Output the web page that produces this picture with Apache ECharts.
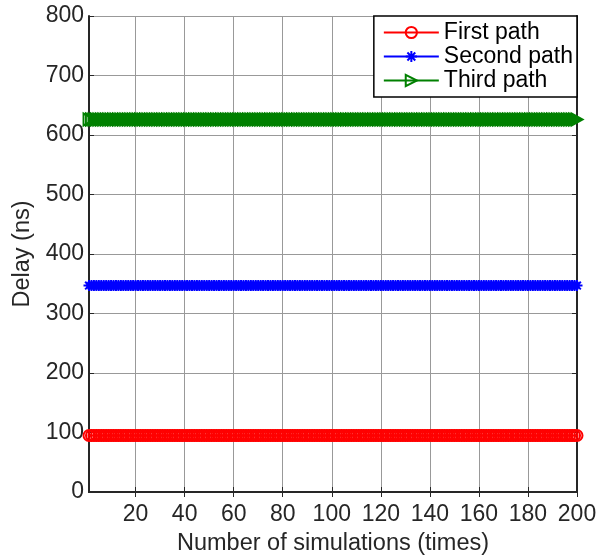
<!DOCTYPE html>
<html>
<head>
<meta charset="utf-8">
<script src="https://cdn.jsdelivr.net/npm/echarts@6/dist/echarts.min.js"></script>
<style>html,body{margin:0;padding:0;background:#fff;}#c{width:601px;height:555px;}</style>
</head>
<body>
<div id="c"></div>
<script>
var seriesNames = ['First path', 'Second path', 'Third path'];
var xTicks = [20, 40, 60, 80, 100, 120, 140, 160, 180, 200];
var yTicks = [0, 100, 200, 300, 400, 500, 600, 700, 800];
var firstPath = [
95,95,95,95,95,95,95,95,95,95,95,95,95,95,95,95,95,95,95,95,
95,95,95,95,95,95,95,95,95,95,95,95,95,95,95,95,95,95,95,95,
95,95,95,95,95,95,95,95,95,95,95,95,95,95,95,95,95,95,95,95,
95,95,95,95,95,95,95,95,95,95,95,95,95,95,95,95,95,95,95,95,
95,95,95,95,95,95,95,95,95,95,95,95,95,95,95,95,95,95,95,95,
95,95,95,95,95,95,95,95,95,95,95,95,95,95,95,95,95,95,95,95,
95,95,95,95,95,95,95,95,95,95,95,95,95,95,95,95,95,95,95,95,
95,95,95,95,95,95,95,95,95,95,95,95,95,95,95,95,95,95,95,95,
95,95,95,95,95,95,95,95,95,95,95,95,95,95,95,95,95,95,95,95,
95,95,95,95,95,95,95,95,95,95,95,95,95,95,95,95,95,95,95,95
];
var secondPath = [
347,347,347,347,347,347,347,347,347,347,347,347,347,347,347,347,347,347,347,347,
347,347,347,347,347,347,347,347,347,347,347,347,347,347,347,347,347,347,347,347,
347,347,347,347,347,347,347,347,347,347,347,347,347,347,347,347,347,347,347,347,
347,347,347,347,347,347,347,347,347,347,347,347,347,347,347,347,347,347,347,347,
347,347,347,347,347,347,347,347,347,347,347,347,347,347,347,347,347,347,347,347,
347,347,347,347,347,347,347,347,347,347,347,347,347,347,347,347,347,347,347,347,
347,347,347,347,347,347,347,347,347,347,347,347,347,347,347,347,347,347,347,347,
347,347,347,347,347,347,347,347,347,347,347,347,347,347,347,347,347,347,347,347,
347,347,347,347,347,347,347,347,347,347,347,347,347,347,347,347,347,347,347,347,
347,347,347,347,347,347,347,347,347,347,347,347,347,347,347,347,347,347,347,347
];
var thirdPath = [
626,626,626,626,626,626,626,626,626,626,626,626,626,626,626,626,626,626,626,626,
626,626,626,626,626,626,626,626,626,626,626,626,626,626,626,626,626,626,626,626,
626,626,626,626,626,626,626,626,626,626,626,626,626,626,626,626,626,626,626,626,
626,626,626,626,626,626,626,626,626,626,626,626,626,626,626,626,626,626,626,626,
626,626,626,626,626,626,626,626,626,626,626,626,626,626,626,626,626,626,626,626,
626,626,626,626,626,626,626,626,626,626,626,626,626,626,626,626,626,626,626,626,
626,626,626,626,626,626,626,626,626,626,626,626,626,626,626,626,626,626,626,626,
626,626,626,626,626,626,626,626,626,626,626,626,626,626,626,626,626,626,626,626,
626,626,626,626,626,626,626,626,626,626,626,626,626,626,626,626,626,626,626,626,
626,626,626,626,626,626,626,626,626,626,626,626,626,626,626,626,626,626,626,626
];

function pairs(arr) {
  return arr.map(function (v, i) { return [i + 1, v]; });
}

var FONT = 'Liberation Sans';
var TXT = '#262626';
var asterisk = 'path://M5,0L5,10M0,5L10,5M1.5,1.5L8.5,8.5M8.5,1.5L1.5,8.5';
var triRight = 'path://M0,0L10,5L0,10Z';

var chart = echarts.init(document.getElementById('c'), null, {renderer: 'canvas'});
chart.setOption({
  animation: false,
  backgroundColor: '#fff',
  textStyle: {fontFamily: FONT, color: TXT},
  grid: {left: 89, right: 24, top: 16, bottom: 63, containLabel: false, outerBoundsMode: 'none'},
  legend: {
    orient: 'vertical',
    right: 24, top: 16,
    backgroundColor: '#fff',
    borderColor: '#000', borderWidth: 1.5,
    padding: [5, 4, 5, 9],
    itemWidth: 55, itemHeight: 14, itemGap: 1,
    textStyle: {fontFamily: FONT, fontSize: 23, color: '#000', lineHeight: 23},
    data: seriesNames
  },
  xAxis: [{
    type: 'value', min: 1, max: 200,
    name: 'Number of simulations (times)',
    nameLocation: 'middle', nameGap: 40,
    nameTextStyle: {fontFamily: FONT, fontSize: 23.5, color: TXT},
    axisLine: {lineStyle: {color: TXT, width: 2}},
    axisTick: {inside: true, length: 5, customValues: xTicks, lineStyle: {color: TXT, width: 1}},
    axisLabel: {customValues: xTicks, fontFamily: FONT, fontSize: 23, color: TXT, margin: 11},
    splitLine: {show: true, customValues: xTicks, lineStyle: {color: '#999', width: 1}}
  }, {
    type: 'value', min: 1, max: 200, position: 'top',
    axisLine: {lineStyle: {color: TXT, width: 2}},
    axisTick: {inside: true, length: 5, customValues: xTicks, lineStyle: {color: TXT, width: 1}},
    axisLabel: {show: false},
    splitLine: {show: false}
  }],
  yAxis: [{
    type: 'value', min: 0, max: 800, interval: 100,
    name: 'Delay (ns)',
    nameLocation: 'middle', nameGap: 51,
    nameTextStyle: {fontFamily: FONT, fontSize: 23.5, color: TXT},
    axisLine: {show: true, lineStyle: {color: TXT, width: 2}},
    axisTick: {show: true, inside: true, length: 5, lineStyle: {color: TXT, width: 1}},
    axisLabel: {fontFamily: FONT, fontSize: 23, color: TXT, margin: 5, padding: [6, 0, 0, 0]},
    splitLine: {show: true, lineStyle: {color: '#999', width: 1}}
  }, {
    type: 'value', min: 0, max: 800, interval: 100, position: 'right',
    axisLine: {show: true, lineStyle: {color: TXT, width: 2}},
    axisTick: {show: true, inside: true, length: 5, lineStyle: {color: TXT, width: 1}},
    axisLabel: {show: false},
    splitLine: {show: false}
  }],
  series: [{
    name: seriesNames[0], type: 'line', data: pairs(firstPath),
    symbol: 'circle', symbolSize: 11, showAllSymbol: true,
    lineStyle: {color: '#ff0000', width: 2},
    itemStyle: {color: 'rgba(0,0,0,0)', borderColor: '#ff0000', borderWidth: 2}
  }, {
    name: seriesNames[1], type: 'line', data: pairs(secondPath),
    symbol: asterisk, symbolSize: 11, showAllSymbol: true,
    lineStyle: {color: '#0000ff', width: 2},
    itemStyle: {color: '#0000ff', borderColor: '#0000ff', borderWidth: 2}
  }, {
    name: seriesNames[2], type: 'line', data: pairs(thirdPath),
    symbol: triRight, symbolSize: [11, 12], showAllSymbol: true,
    lineStyle: {color: '#008000', width: 2},
    itemStyle: {color: 'rgba(0,0,0,0)', borderColor: '#008000', borderWidth: 2}
  }]
});
</script>
</body>
</html>
